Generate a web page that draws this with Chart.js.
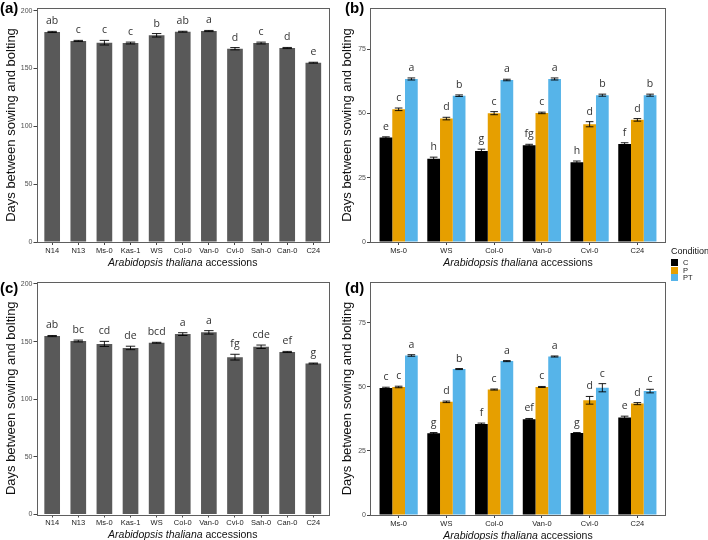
<!DOCTYPE html>
<html>
<head>
<meta charset="utf-8">
<script src="https://cdn.jsdelivr.net/npm/chart.js@4.4.1/dist/chart.umd.min.js"></script>
<style>
  body { margin: 0; background: #fff; }
  #wrap { position: relative; width: 708px; height: 540px; overflow: hidden; font-family: "Liberation Sans", Arial, sans-serif; }
  canvas { position: absolute; }
  .tag { position: absolute; font-weight: bold; font-size: 15px; line-height: 15px; color: #000; }
  #legend { position: absolute; left: 671px; top: 245px; width: 37px; height: 40px; }
  #legend .ltitle { position: absolute; left: 0; top: 1px; font-size: 9px; line-height: 10px; color: #111; white-space: nowrap; }
  #legend .sw { position: absolute; left: 0; width: 7px; height: 7px; }
  #legend .lab { position: absolute; left: 12px; font-size: 7.5px; line-height: 7px; color: #222; }
</style>
</head>
<body>
<div id="wrap">
  <canvas id="chartA" width="354" height="270" style="left:0;top:0"></canvas>
  <canvas id="chartB" width="372" height="270" style="left:336px;top:0"></canvas>
  <canvas id="chartC" width="354" height="270" style="left:0;top:270px"></canvas>
  <canvas id="chartD" width="372" height="270" style="left:336px;top:270px"></canvas>
  <div class="tag" style="left:0;top:0">(a)</div>
  <div class="tag" style="left:345px;top:0">(b)</div>
  <div class="tag" style="left:0;top:280px">(c)</div>
  <div class="tag" style="left:345px;top:280px">(d)</div>
  <div id="legend"></div>
</div>
<script>
// accessions
const accessions11 = ['N14', 'N13', 'Ms-0', 'Kas-1', 'WS', 'Col-0', 'Van-0', 'Cvi-0', 'Sah-0', 'Can-0', 'C24'];
const accessions6 = ['Ms-0', 'WS', 'Col-0', 'Van-0', 'Cvi-0', 'C24'];
const conditions = ['C', 'P', 'PT'];
const conditionColors = ['#000000', '#E69F00', '#56B4E9'];

// y tick labels
const ticksAC = [0, 50, 100, 150, 200];
const ticksBD = [0, 25, 50, 75];

// panel (a)
const daysA = [181.6, 173.8, 172.3, 172.0, 178.7, 181.8, 182.4, 167.1, 172.0, 167.7, 155.0];
const errA = [0.5, 0.5, 2.0, 0.8, 1.5, 0.4, 0.5, 1.0, 0.8, 0.5, 0.4];
const lettersA = ['ab', 'c', 'c', 'c', 'b', 'ab', 'a', 'd', 'c', 'd', 'e'];

// panel (c)
const daysC = [154.8, 150.5, 148.0, 144.5, 149.0, 156.5, 158.0, 136.5, 145.5, 141.0, 131.0];
const errC = [0.5, 0.8, 2.2, 1.5, 0.4, 1.2, 1.5, 2.5, 1.5, 0.5, 0.4];
const lettersC = ['ab', 'bc', 'cd', 'de', 'bcd', 'a', 'a', 'fg', 'cde', 'ef', 'g'];

// panel (b)
const bDaysC = [40.6, 32.4, 35.4, 37.6, 31.0, 38.1];
const bDaysP = [51.6, 48.0, 50.1, 50.2, 45.8, 47.5];
const bDaysPT = [63.4, 56.9, 63.0, 63.4, 57.1, 57.1];
const bErrC = [0.3, 0.6, 0.7, 0.4, 0.5, 0.5];
const bErrP = [0.5, 0.5, 0.6, 0.3, 1.0, 0.5];
const bErrPT = [0.4, 0.3, 0.3, 0.4, 0.4, 0.4];
const bLettersC = ['e', 'h', 'g', 'fg', 'h', 'f'];
const bLettersP = ['c', 'd', 'c', 'c', 'd', 'd'];
const bLettersPT = ['a', 'b', 'a', 'a', 'b', 'b'];

// panel (d)
const dDaysC = [49.6, 31.9, 35.5, 37.4, 32.0, 38.1];
const dDaysP = [50.0, 44.2, 49.0, 50.0, 44.8, 43.5];
const dDaysPT = [62.3, 57.0, 60.1, 61.9, 49.7, 48.4];
const dErrC = [0.3, 0.3, 0.4, 0.3, 0.2, 0.5];
const dErrP = [0.3, 0.3, 0.2, 0.2, 1.5, 0.4];
const dErrPT = [0.3, 0.2, 0.2, 0.2, 1.6, 0.7];
const dLettersC = ['c', 'g', 'f', 'ef', 'g', 'e'];
const dLettersP = ['c', 'd', 'c', 'c', 'd', 'd'];
const dLettersPT = ['a', 'b', 'a', 'a', 'c', 'c'];

// error bars, letters, panel box and x title
const decor = {
    id: 'decor',
    afterDatasetsDraw(chart) {
        const ctx = chart.ctx;
        const y = chart.scales.y;
        ctx.save();
        chart.data.datasets.forEach((ds, di) => {
            const meta = chart.getDatasetMeta(di);
            meta.data.forEach((bar, i) => {
                const v = ds.data[i].y, e = ds.errors[i];
                const cap = bar.width * 0.3;
                const yTop = y.getPixelForValue(v + e), yBot = y.getPixelForValue(v - e);
                ctx.strokeStyle = '#000';
                ctx.lineWidth = 0.9;
                ctx.beginPath();
                ctx.moveTo(bar.x, yTop); ctx.lineTo(bar.x, yBot);
                ctx.moveTo(bar.x - cap, yTop); ctx.lineTo(bar.x + cap, yTop);
                ctx.moveTo(bar.x - cap, yBot); ctx.lineTo(bar.x + cap, yBot);
                ctx.stroke();
                ctx.fillStyle = '#333';
                ctx.font = '10.5px "Open Sans", sans-serif';
                ctx.textAlign = 'center';
                ctx.textBaseline = 'alphabetic';
                ctx.fillText(ds.letters[i], bar.x, yTop - 7);
            });
        });
        ctx.restore();
    },
    afterDraw(chart) {
        const ctx = chart.ctx;
        const a = chart.chartArea;
        ctx.save();
        ctx.strokeStyle = '#5f5f5f';
        ctx.lineWidth = 1;
        ctx.strokeRect(Math.round(a.left) + 0.5, Math.round(a.top) + 0.5,
            Math.round(a.right - a.left) - 1, Math.round(a.bottom - a.top));
        // x axis title with italic species name
        const t1 = 'Arabidopsis thaliana', t2 = ' accessions';
        const fi = 'italic 10.5px "Liberation Sans", Arial, sans-serif';
        const fn = '10.5px "Liberation Sans", Arial, sans-serif';
        ctx.font = fi; const w1 = ctx.measureText(t1).width;
        ctx.font = fn; const w2 = ctx.measureText(t2).width;
        const x0 = (a.left + a.right) / 2 - (w1 + w2) / 2;
        const ty = a.bottom + 21;
        ctx.fillStyle = '#111';
        ctx.textBaseline = 'middle';
        ctx.textAlign = 'left';
        ctx.font = fi; ctx.fillText(t1, x0, ty);
        ctx.font = fn; ctx.fillText(t2, x0 + w1, ty);
        ctx.restore();
    }
};

function makePanel(id, cats, datasets, ymax, yticks, lay) {
    return new Chart(document.getElementById(id), {
        type: 'bar',
        data: { datasets: datasets },
        options: {
            responsive: false,
            animation: false,
            layout: { padding: { top: lay.top, right: lay.right, left: 0, bottom: 0 } },
            plugins: { legend: { display: false }, tooltip: { enabled: false } },
            scales: {
                x: {
                    type: 'linear', min: 0.4, max: cats.length + 0.6, offset: false,
                    afterBuildTicks: s => { s.ticks = cats.map((c, i) => ({ value: i + 1 })); },
                    afterFit: s => { s.height = lay.xh; },
                    ticks: { callback: v => cats[v - 1], autoSkip: false, maxRotation: 0, color: '#222',
                             font: { size: 7.5, family: '"Liberation Sans", Arial, sans-serif' }, padding: 1 },
                    grid: { drawOnChartArea: false, tickLength: 3, color: '#444', offset: false },
                    border: { display: false }
                },
                y: {
                    min: 0, max: ymax,
                    afterBuildTicks: s => { s.ticks = yticks.map(v => ({ value: v })); },
                    afterFit: s => { s.width = lay.yw; },
                    ticks: { autoSkip: false, color: '#4d4d4d',
                             font: { size: 7, family: '"Liberation Sans", Arial, sans-serif' }, padding: 1 },
                    grid: { drawOnChartArea: false, tickLength: 3, color: '#444' },
                    border: { display: false },
                    title: { display: true, text: 'Days between sowing and bolting', color: '#111',
                             font: { size: 13, family: '"Liberation Sans", Arial, sans-serif' },
                             padding: { top: 4, bottom: 0 } }
                }
            }
        },
        plugins: [decor]
    });
}

function single(values, errors, letters) {
    return [{
        data: values.map((v, i) => ({ x: i + 1, y: v })),
        errors: errors, letters: letters,
        backgroundColor: '#595959',
        barPercentage: 0.6, categoryPercentage: 1
    }];
}

function grouped(vals, errs, lets) {
    return conditions.map((c, k) => ({
        label: c,
        data: vals[k].map((v, i) => ({ x: i + 1, y: v })),
        errors: errs[k], letters: lets[k],
        backgroundColor: conditionColors[k],
        barPercentage: 1, categoryPercentage: 0.8
    }));
}

makePanel('chartA', accessions11, single(daysA, errA, lettersA), 202.3, ticksAC,
    { top: 8, right: 25, yw: 36.5, xh: 28 });
makePanel('chartC', accessions11, single(daysC, errC, lettersC), 201.7, ticksAC,
    { top: 12, right: 25, yw: 36.5, xh: 25.5 });
makePanel('chartB', accessions6,
    grouped([bDaysC, bDaysP, bDaysPT], [bErrC, bErrP, bErrPT], [bLettersC, bLettersP, bLettersPT]),
    91, ticksBD, { top: 8, right: 42, yw: 34, xh: 28 });
makePanel('chartD', accessions6,
    grouped([dDaysC, dDaysP, dDaysPT], [dErrC, dErrP, dErrPT], [dLettersC, dLettersP, dLettersPT]),
    91, ticksBD, { top: 12, right: 42, yw: 34, xh: 25 });

// shared legend
const legend = document.getElementById('legend');
let html = '<div class="ltitle">Condition</div>';
conditions.forEach((c, k) => {
    const top = 14 + k * 7.6;
    html += '<div class="sw" style="top:' + top + 'px;background:' + conditionColors[k] + '"></div>';
    html += '<div class="lab" style="top:' + top + 'px">' + c + '</div>';
});
legend.innerHTML = html;
</script>
</body>
</html>
